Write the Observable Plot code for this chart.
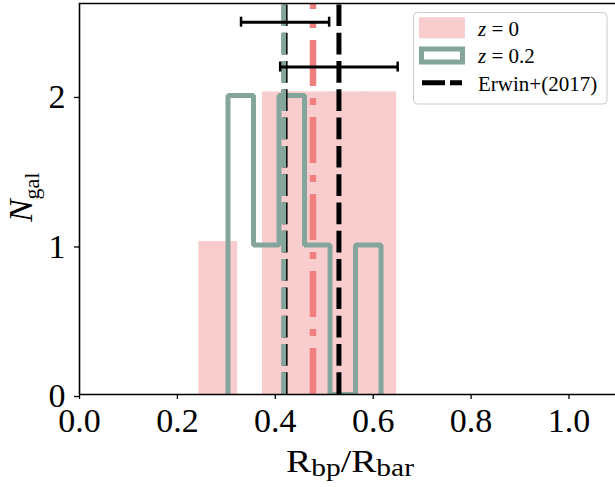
<!DOCTYPE html>
<html><head><meta charset="utf-8">
<script src="https://cdn.jsdelivr.net/npm/d3@7"></script>
<script src="https://cdn.jsdelivr.net/npm/@observablehq/plot@0.6"></script>
<style>body{margin:0;background:#fff} svg{display:block} text{white-space:pre}</style>
</head><body><div id="chart"></div>
<script>
// z = 0 histogram (bin edges and counts)
const z0Edges = [0.251, 0.316, 0.381, 0.446, 0.511, 0.576, 0.641];
const z0Counts = [1, 0, 2, 2, 2, 2];
// z = 0.2 histogram (step)
const z02Edges = [0.3034, 0.3555, 0.4076, 0.4597, 0.5118, 0.5639, 0.6160];
const z02Counts = [2, 1, 2, 1, 0, 1];
// medians
const medianZ0 = 0.477;
const medianZ02 = 0.417;
// Erwin+(2017)
const erwinValues = [0.42, 0.53];
const erwinErrors = [0.09, 0.12];
const erwinRowY = [2.49, 2.19];
// ticks
const xTicks = [0, 0.2, 0.4, 0.6, 0.8, 1.0];
const yTicks = [0, 1, 2];
const legendLabels = ["z = 0", "z = 0.2", "Erwin+(2017)"];

const pinkFill = "#f9cdcd", pinkLine = "#f08080", teal = "#84a59c";
const W = 615, H = 487, xMax = 1.095, yMax = 2.615;
const FONT = "'Liberation Serif', 'DejaVu Serif', serif";

const z0Bins = z0Counts.map((c, i) => ({x1: z0Edges[i], x2: z0Edges[i + 1], n: c}));
const stepPts = [{x: z02Edges[0], n: 0}];
z02Counts.forEach((c, i) => { stepPts.push({x: z02Edges[i], n: c}); stepPts.push({x: z02Edges[i + 1], n: c}); });
stepPts.push({x: z02Edges[z02Edges.length - 1], n: 0});
const erwin = erwinValues.map((v, i) => ({v, e: erwinErrors[i], y: erwinRowY[i]}));
const caps = erwin.flatMap(d => [{x: d.v - d.e, y: d.y}, {x: d.v + d.e, y: d.y}]);

const plot = Plot.plot({
  width: W, height: H, marginLeft: 79, marginRight: 0, marginTop: 3, marginBottom: 93,
  x: {domain: [0, xMax]}, y: {domain: [0, yMax]},
  style: {fontFamily: FONT, fontSize: "34px", background: "white", color: "black", overflow: "visible"},
  marks: [
    Plot.rectY(z0Bins, {x1: "x1", x2: "x2", y1: 0, y2: "n", fill: pinkFill, stroke: pinkFill, strokeWidth: 7, clip: true}),
    Plot.line(stepPts, {x: "x", y: "n", stroke: teal, strokeWidth: 5, strokeLinejoin: "miter", clip: true}),
    Plot.ruleX([medianZ0], {y1: 0, y2: yMax, stroke: pinkLine, strokeWidth: 6.5, strokeDasharray: "46,12,7,12"}),
    Plot.ruleX(erwinValues, {y1: 0, y2: yMax, stroke: "black", strokeWidth: 5, strokeDasharray: "21.7,6.6"}),
    Plot.ruleX([medianZ02], {y1: 0, y2: yMax, stroke: teal, strokeWidth: 5, strokeDasharray: "21.7,6.6"}),
    Plot.ruleY(erwin, {x1: d => d.v - d.e, x2: d => d.v + d.e, y: "y", stroke: "black", strokeWidth: 3}),
    Plot.ruleX(caps, {x: "x", y1: "y", y2: "y", insetTop: -5, insetBottom: -5, stroke: "black", strokeWidth: 2.5}),
    Plot.ruleY([0], {stroke: "black", strokeWidth: 1.6}),
    Plot.ruleY([yMax], {stroke: "black", strokeWidth: 1.6}),
    Plot.ruleX([0], {stroke: "black", strokeWidth: 1.6}),
    Plot.axisX({ticks: xTicks, tickSize: 5, tickPadding: 8.6, tickFormat: d3.format(".1f"), label: null, strokeWidth: 1.3}),
    Plot.axisY({ticks: yTicks, tickSize: 5, tickPadding: 9, tickFormat: d => String(d), label: null, dy: 2, strokeWidth: 1.3})
  ]
});
document.getElementById("chart").appendChild(plot);

const svg = d3.select(plot);
// x label
const xl = svg.append("text").attr("x", 350).attr("y", 471.7).attr("text-anchor", "middle")
  .attr("font-size", 32).attr("font-family", FONT).attr("fill", "black")
  .attr("textLength", 128).attr("lengthAdjust", "spacingAndGlyphs");
xl.append("tspan").text("R");
xl.append("tspan").attr("font-size", 25).attr("dy", 4).text("bp");
xl.append("tspan").attr("dy", -4).text("/R");
xl.append("tspan").attr("font-size", 25).attr("dy", 4).text("bar");
// y label
const yl = svg.append("text").attr("transform", "translate(32,197.3) rotate(-90)").attr("text-anchor", "middle")
  .attr("font-size", 34).attr("font-family", FONT).attr("fill", "black");
yl.append("tspan").attr("font-style", "italic").text("N");
yl.append("tspan").attr("font-size", 22).attr("dy", 7).text("gal");

// legend
const lg = svg.append("g").attr("font-family", FONT).attr("font-size", 21).attr("text-anchor", "start");
lg.append("rect").attr("x", 413.5).attr("y", 12.5).attr("width", 193.5).attr("height", 91.5).attr("rx", 4)
  .attr("fill", "white").attr("fill-opacity", 0.8).attr("stroke", "#cccccc").attr("stroke-width", 1);
lg.append("rect").attr("x", 419).attr("y", 17.3).attr("width", 46).attr("height", 21).attr("fill", pinkFill);
lg.append("rect").attr("x", 421.5).attr("y", 49).attr("width", 41).attr("height", 13)
  .attr("fill", "white").attr("stroke", teal).attr("stroke-width", 5);
lg.append("line").attr("x1", 422).attr("x2", 462).attr("y1", 82.7).attr("y2", 82.7)
  .attr("stroke", "black").attr("stroke-width", 5).attr("stroke-dasharray", "23,5");
const baselines = [35.7, 63.3, 91];
legendLabels.forEach((lab, i) => {
  const t = lg.append("text").attr("x", 478).attr("y", baselines[i]).attr("fill", "black");
  if (lab.startsWith("z")) {
    t.append("tspan").attr("font-style", "italic").text("z");
    t.append("tspan").text(lab.slice(1));
  } else {
    t.text(lab);
  }
});
</script>
</body></html>
